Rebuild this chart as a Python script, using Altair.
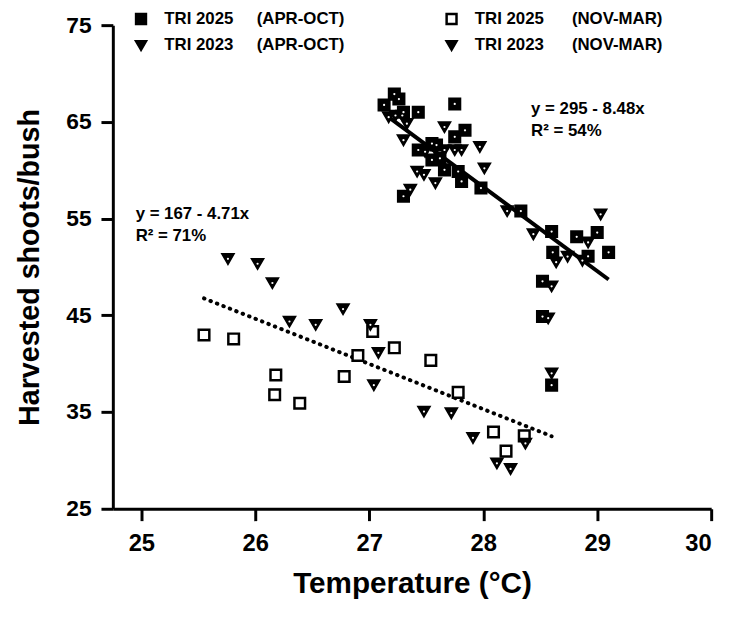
import altair as alt
import pandas as pd

NB = "\u00a0"
S_A25 = "TRI 2025" + NB * 5 + "(APR-OCT)"
S_N25 = "TRI 2025" + NB * 6 + "(NOV-MAR)"
S_A23 = "TRI 2023" + NB * 5 + "(APR-OCT)"
S_N23 = "TRI 2023" + NB * 6 + "(NOV-MAR)"
# legend fills column by column: first column APR-OCT, second column NOV-MAR
series_order = [S_A25, S_A23, S_N25, S_N23]

# TRI 2025 (APR-OCT) - squares, upper cluster
a25_x = [27.13, 27.22, 27.26, 27.43, 27.75, 27.30, 27.84, 27.75, 27.55, 27.59, 27.43, 27.55,
         27.62, 27.66, 27.78, 27.81, 27.98, 27.30, 28.33, 28.60, 28.82, 29.00, 28.61, 28.92,
         29.10, 28.52, 28.52, 28.60]
a25_y = [66.75, 67.87, 67.36, 66.0, 66.85, 66.0, 64.13, 63.45, 62.76, 62.6, 62.09, 61.06,
         61.23, 60.04, 59.87, 58.84, 58.16, 57.31, 55.78, 53.66, 53.12, 53.56, 51.51, 51.10,
         51.51, 48.52, 44.87, 37.78]

# TRI 2025 (NOV-MAR) - open squares, lower cluster
n25_x = [25.55, 25.81, 27.03, 26.90, 26.18, 26.78, 26.17, 26.39, 27.22, 27.54, 27.78, 28.09,
         28.36, 28.20]
n25_y = [42.97, 42.56, 43.33, 40.85, 38.83, 38.67, 36.79, 35.91, 41.64, 40.34, 37.03, 32.94,
         32.54, 30.96]

# TRI 2023 (APR-OCT) - triangles, upper cluster
a23_x = [27.17, 27.23, 27.29, 27.33, 27.30, 27.66, 27.97, 27.49, 27.66, 27.75, 27.81, 28.01,
         27.42, 27.48, 27.58, 27.36, 28.21, 29.03, 28.44, 28.92, 28.64, 28.74, 28.87, 28.60,
         28.57, 28.60]
a23_y = [65.49, 65.66, 65.66, 64.81, 63.11, 64.47, 62.42, 61.91, 62.09, 62.09, 62.09, 60.2,
         59.87, 59.53, 58.67, 57.99, 55.78, 55.44, 53.39, 52.54, 50.49, 51.07, 50.66, 48.0,
         44.7, 39.0]

# TRI 2023 (NOV-MAR) - triangles, lower cluster
n23_x = [25.76, 26.02, 26.15, 26.77, 26.30, 26.53, 27.01, 27.08, 27.04, 27.48, 27.72, 27.91,
         28.37, 28.12, 28.24]
n23_y = [50.84, 50.33, 48.34, 45.65, 44.36, 44.02, 44.02, 41.12, 37.78, 35.05, 34.89, 32.33,
         31.75, 29.7, 29.12]

# regression line end points
fit_a_x = [27.17, 29.10]
fit_a_y = [65.5, 48.7]
fit_n_x = [25.55, 28.60]
fit_n_y = [46.75, 32.5]

# annotations
ann_x = [28.42, 28.42, 24.95, 24.95]
ann_y = [66.3, 64.0, 55.5, 53.2]
ann_text = ["y = 295 - 8.48x", "R\u00b2 = 54%", "y = 167 - 4.71x", "R\u00b2 = 71%"]

rows = []
for name, xs_, ys_ in [(S_A25, a25_x, a25_y), (S_A23, a23_x, a23_y),
                       (S_N25, n25_x, n25_y), (S_N23, n23_x, n23_y)]:
    for xv, yv in zip(xs_, ys_):
        rows.append({"x": xv, "y": yv, "series": name})
pts = pd.DataFrame(rows)

FONT = "Liberation Sans"
xs = alt.Scale(domain=[24.75, 30], nice=False, zero=False)
ys = alt.Scale(domain=[25, 75], nice=False, zero=False)

xax = alt.Axis(values=[25, 26, 27, 28, 29, 30], format="d", title="Temperature (\u00b0C)", grid=False,
               titleFontSize=30, titleY=76, titleBaseline="middle", labelPadding=11, labelFontSize=24)
yax = alt.Axis(values=[25, 35, 45, 55, 65, 75], format="d", title="Harvested shoots/bush", grid=False,
               titleFontSize=29, titleX=-84, titleBaseline="middle", labelPadding=10, labelFontSize=23)

leg = alt.Legend(orient="none", legendX=20, legendY=-15, columns=2, columnPadding=97,
                 rowPadding=7, title=None, padding=0, labelLimit=500, labelFont=FONT,
                 labelFontWeight="bold", labelFontSize=17, labelOffset=15, symbolSize=100,
                 symbolStrokeWidth=2.5, labelColor="black")

points = alt.Chart(pts).mark_point(filled=True, strokeWidth=2.5, size=115, opacity=1).encode(
    x=alt.X("x:Q", scale=xs, axis=xax),
    y=alt.Y("y:Q", scale=ys, axis=yax),
    shape=alt.Shape("series:N", scale=alt.Scale(domain=series_order,
                    range=["square", "triangle-down", "square", "triangle-down"]), legend=leg),
    fill=alt.Fill("series:N", scale=alt.Scale(domain=series_order,
                  range=["black", "black", "white", "black"]), legend=leg),
    stroke=alt.Stroke("series:N", scale=alt.Scale(domain=series_order,
                      range=["black", "black", "black", "black"]), legend=leg),
)

dots = alt.Chart(pts).transform_filter(
    alt.datum.series != S_N25
).mark_point(filled=True, color="white", size=5, opacity=1).encode(
    x=alt.X("x:Q", scale=xs), y=alt.Y("y:Q", scale=ys)
)

line_a = alt.Chart(pd.DataFrame({"x": fit_a_x, "y": fit_a_y})).mark_line(
    color="black", strokeWidth=4).encode(x=alt.X("x:Q", scale=xs), y=alt.Y("y:Q", scale=ys))
line_n = alt.Chart(pd.DataFrame({"x": fit_n_x, "y": fit_n_y})).mark_line(
    color="black", strokeWidth=4, strokeDash=[0.5, 6.5], strokeCap="round").encode(
    x=alt.X("x:Q", scale=xs), y=alt.Y("y:Q", scale=ys))

texts = alt.Chart(pd.DataFrame({"x": ann_x, "y": ann_y, "t": ann_text})).mark_text(
    align="left", baseline="middle", font=FONT, fontWeight="bold", fontSize=17, color="black"
).encode(x=alt.X("x:Q", scale=xs), y=alt.Y("y:Q", scale=ys), text="t:N")

chart = alt.layer(line_n, line_a, points, dots, texts).properties(
    width=605, height=489,
    padding={"left": 106, "top": 14, "right": 16, "bottom": 97},
    autosize=alt.AutoSizeParams(type="none"),
).configure_view(strokeWidth=0).configure_axis(
    domainColor="black", domainWidth=3, tickColor="black", tickWidth=3, tickSize=12,
    labelColor="black", labelFont=FONT, labelFontWeight="bold",
    titleColor="black", titleFont=FONT, titleFontWeight="bold",
)

chart.save("out.html", embed_options={"renderer": "svg", "actions": False})
